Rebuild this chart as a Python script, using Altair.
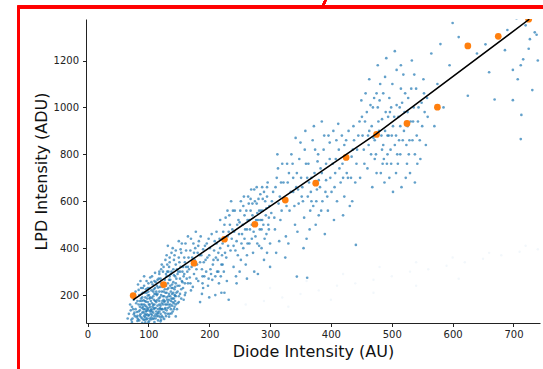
import altair as alt
import pandas as pd

# ---- data -------------------------------------------------------------
# dense low cluster
cluster_pts = [
    (68,120),(72,95),(75,140),(78,110),(80,165),(82,90),(84,130),(85,200),(86,150),(88,105),
    (89,175),(90,125),(91,230),(92,95),(93,160),(94,140),(95,190),(96,115),(97,210),(98,100),
    (99,170),(100,135),(100,250),(101,88),(102,185),(103,150),(104,120),(105,220),(106,165),(107,98),
    (108,195),(109,140),(110,260),(110,110),(111,175),(112,205),(113,130),(114,240),(115,155),(116,92),
    (117,185),(118,215),(119,145),(120,270),(120,120),(121,200),(122,165),(123,235),(124,105),(125,180),
    (126,250),(127,140),(128,210),(129,290),(130,160),(131,225),(132,120),(133,195),(134,265),(135,150),
    (136,240),(137,175),(138,300),(139,205),(140,130),(141,255),(142,185),(143,225),(144,280),(145,160),
    (146,210),(148,240),(150,195),(152,270),(154,225),(156,300),(158,180),(160,250),(76,180),(79,215),
    (83,245),(87,260),(90,190),(93,280),(95,105),(97,150),(99,230),(101,200),(103,275),(105,140),
    (107,245),(109,180),(111,295),(113,215),(115,120),(117,270),(119,190),(121,310),(123,140),(125,215),
    (127,175),(129,240),(131,330),(133,160),(135,280),(137,215),(139,155),(141,310),(143,200),(145,250),
    (86,112),(92,128),(96,172),(104,96),(108,158),(112,145),(118,130),(122,112),(126,98),(130,135),
    (134,108),(138,122),(142,140),(84,160),(88,185),(94,210),(98,118),(102,160),(106,188),(110,205),
    (114,178),(116,232),(120,155),(124,195),(128,122),(132,250),(136,195),(140,230),(144,198),(148,165),
    (70,160),(74,100),(77,125),(81,105),(85,92),(89,145),(93,110),(97,132),(101,115),(105,105),
    (90,82),(100,83),(110,85),(120,88),(95,84),(145,109),(66,100),(73,85),
]
cluster_pts_2 = [
    (71,135),(73,150),(76,118),(78,195),(79,140),(81,128),(82,175),(83,98),(84,222),(86,135),
    (87,118),(88,160),(89,205),(90,100),(91,150),(92,178),(93,240),(94,120),(95,155),(96,225),
    (97,96),(98,140),(99,198),(100,112),(101,160),(102,230),(103,130),(104,175),(105,255),(106,115),
    (107,150),(108,215),(109,100),(110,145),(111,230),(112,118),(113,170),(114,200),(115,265),(116,140),
    (117,110),(118,175),(119,235),(120,140),(121,95),(122,215),(123,175),(124,250),(125,128),(126,195),
    (127,225),(128,160),(129,110),(130,280),(131,180),(132,145),(133,230),(134,205),(135,120),(136,265),
    (137,140),(138,185),(139,245),(140,170),(141,210),(142,285),(143,150),(144,235),(145,195),(146,270),
    (147,140),(148,215),(149,300),(150,170),(151,240),(152,205),(153,320),(154,185),(155,260),(157,230),
    (159,290),(161,210),(163,270),(165,320),(88,230),(91,210),(94,175),(97,260),(100,215),(103,190),
    (106,280),(109,225),(112,255),(115,205),(118,290),(121,250),(124,300),(127,265),(130,210),(133,300),
    (92,140),(96,130),(100,145),(104,135),(108,125),(112,100),(116,125),(120,105),(124,160),(128,145),
    (132,170),(136,160),(140,185),(144,175),(82,112),(86,175),(90,160),(94,95),(98,185),(102,100),
    (106,130),(110,160),(114,110),(118,160),(122,140),(126,170),(130,190),(134,180),(138,230),(142,165),
]
# lower-middle spread
low_mid_pts = [
    (125,320),(130,370),(135,340),(140,400),(145,330),(150,360),(152,300),(155,420),(158,280),(160,340),
    (162,390),(165,250),(167,310),(170,440),(172,360),(175,290),(177,400),(180,330),(182,260),(184,370),
    (186,450),(188,310),(190,395),(192,280),(194,350),(196,420),(198,240),(200,370),(202,310),(204,460),
    (206,330),(208,390),(210,280),(212,420),(214,350),(216,250),(218,400),(220,330),(150,430),(165,450),
    (178,470),(190,230),(170,220),(160,200),(148,290),(185,340),(195,300),(205,265),(175,380),(162,320),
    (142,350),(138,380),(156,255),(168,275),(182,410),(199,440),(211,360),(173,235),(188,205),(153,395),
    (210,200),(225,210),(200,190),(185,170),(145,390),(132,410),(128,350),(118,300),(122,330),(135,360),
    (232,180),(220,210),
    (131,300),(134,320),(137,290),(143,370),(147,310),(151,340),(154,380),(157,320),(159,360),(161,420),
    (164,300),(166,360),(169,390),(171,320),(174,420),(176,350),(179,310),(181,380),(183,430),(187,370),
    (189,280),(191,340),(193,410),(197,360),(201,400),(203,290),(207,350),(209,430),(213,300),(215,380),
    (217,440),(219,280),(221,370),(224,300),(227,440),(229,260),(169,250),(179,270),(189,250),(199,270),
]
mid_pts = [
    (222,420),(225,500),(228,360),(230,450),(233,540),(235,390),(238,480),(240,320),(242,560),(245,430),
    (247,370),(250,510),(252,600),(254,460),(256,400),(258,540),(260,330),(262,480),(264,620),(266,420),
    (268,560),(270,500),(272,380),(274,650),(276,450),(278,590),(280,520),(282,410),(284,630),(286,480),
    (288,560),(290,350),(292,600),(294,460),(296,680),(298,530),(300,420),(236,600),(244,280),(252,350),
    (258,440),(266,520),(274,300),(282,560),(290,640),(298,480),(226,380),(232,470),(248,520),(256,580),
    (262,370),(270,440),(278,660),(286,400),(294,570),(240,410),(250,300),(268,610),(284,520),(230,560),
    (215,300),(212,470),(218,520),(222,330),(245,250),(262,270),(280,290),(300,320),(295,380),(288,610),
    (223,470),(227,530),(231,410),(234,500),(237,440),(239,560),(241,470),(243,390),(246,500),(249,460),
    (251,560),(253,420),(255,500),(257,620),(259,480),(261,560),(263,420),(265,590),(267,480),(269,650),
    (271,540),(273,470),(275,600),(277,520),(279,420),(281,610),(283,480),(285,560),(287,660),(289,500),
    (291,440),(293,540),(295,620),(297,500),(299,580),(263,520),(271,590),(279,550),(287,520),(295,660),
]
upper_mid_pts = [
    (302,550),(305,640),(308,480),(311,700),(314,590),(317,520),(320,760),(323,610),(326,450),(329,680),
    (332,560),(335,800),(338,640),(341,500),(344,720),(347,590),(350,850),(353,660),(356,530),(359,760),
    (362,620),(365,480),(368,700),(371,580),(374,820),(377,650),(380,540),(383,740),(386,600),(389,880),
    (392,690),(395,560),(398,780),(401,640),(404,900),(407,720),(410,600),(413,820),(416,680),(419,760),
    (422,620),(425,860),(428,700),(431,580),(434,790),(437,920),(440,680),(315,430),(330,420),(345,470),
    (360,440),(375,500),(390,460),(405,520),(420,540),(435,600),(312,800),(328,760),(342,870),(358,900),
    (372,920),(385,940),(398,850),(412,930),(426,720),(338,700),(352,620),(366,560),(380,690),(394,620),
    (408,780),(422,840),(364,680),(378,770),(392,760),(406,660),(420,700),(436,820),(346,650),(318,680),
    (344,279),(361,274),(441,414),(325,360),(310,380),(355,400),
    (303,600),(307,530),(309,660),(313,740),(316,620),(319,560),(322,680),(327,580),(331,720),(334,640),
    (337,760),(340,580),(343,660),(348,780),(351,700),(354,600),(357,820),(361,700),(363,760),(367,640),
    (370,860),(373,720),(376,600),(379,800),(382,660),(385,720),(388,820),(391,640),(396,880),(399,700),
    (403,760),(409,860),(414,740),(418,880),(424,780),(429,900),(433,700),(438,860),(368,600),(384,560),
]
high_pts = [
    (442,760),(445,880),(448,700),(451,960),(454,820),(457,1060),(460,740),(463,900),(466,800),(469,1000),
    (472,860),(475,720),(478,940),(481,1100),(484,820),(487,780),(490,980),(493,880),(496,1040),(499,760),
    (502,920),(505,840),(508,1160),(511,960),(514,800),(517,1020),(520,900),(523,700),(526,980),(529,860),
    (532,1080),(535,940),(538,800),(541,880),(544,1000),(547,780),(550,920),(553,1060),(556,840),(559,960),
    (463,1120),(477,1180),(491,1210),(505,1240),(519,1140),(533,1200),(488,680),(502,640),(516,660),(530,720),
    (472,780),(486,840),(500,880),(514,920),(528,800),(542,760),(456,940),(470,870),(484,950),(498,820),
    (512,860),(526,920),(540,1080),(468,660),(482,720),(496,700),(510,760),(524,840),(538,680),(552,1120),
    (480,1030),(494,960),(508,1010),(522,1060),(536,1000),(450,1030),(465,1010),(479,900),(493,800),(507,720),
    (443,820),(447,940),(452,880),(455,760),(459,980),(462,840),(467,920),(471,1040),(474,800),(477,1000),
    (483,880),(486,1060),(489,900),(492,760),(495,880),(497,980),(501,1100),(504,960),(507,880),(509,800),
    (513,1000),(515,1080),(518,860),(521,980),(525,760),(527,1040),(531,940),(534,860),(537,1140),(543,940),
    (546,860),(549,1020),(554,980),(558,1040),(489,1130),(515,1180),(475,1060),(461,880),(499,1000),(485,760),
]
top_pts = [
    (565,1230),(575,1100),(585,1000),(595,1180),(610,1300),(625,1050),(640,1230),(654,1269),(669,1034),(686,1244),
    (699,1031),(699,1160),(707,1120),(713,968),(712,865),(716,1205),(727,1291),(731,1074),(720,1350),(735,1320),
    (705,1380),(690,1330),(740,1200),(600,1360),(570,920),(580,1270),(660,1150),(725,1250),(712,1180),(738,1310),
]
# very faint second population (lower band)
faint_pts = [
    (260,160),(290,175),(320,190),(350,205),(380,220),(410,240),(440,250),(470,265),(500,280),(530,300),
    (560,310),(590,325),(620,340),(650,355),(680,370),(710,385),(740,395),(300,230),(360,260),(420,290),
    (480,320),(540,340),(600,360),(660,380),(720,410),(330,150),(400,180),(470,210),(540,240),(610,270),
]

bin_x = [75, 125, 175, 225, 275, 325, 375, 425, 475, 525, 575, 625, 675, 725]
bin_y = [198, 245, 336, 438, 502, 605, 677, 787, 885, 932, 1001, 1262, 1303, 1376]

fit_x = [75, 300, 474, 726]
fit_y = [180, 578, 886, 1376]

# ---- frames -------------------------------------------------------------
blue_all = (cluster_pts + cluster_pts_2 + low_mid_pts + mid_pts
            + upper_mid_pts + high_pts + top_pts)
blue_df = pd.DataFrame(blue_all, columns=["x", "y"])
faint_df = pd.DataFrame(faint_pts, columns=["x", "y"])
bin_df = pd.DataFrame({"x": bin_x, "y": bin_y})
fit_df = pd.DataFrame({"x": fit_x, "y": fit_y})

xs = alt.Scale(domain=[-2.5, 743.6], nice=False, zero=False)
ys = alt.Scale(domain=[81, 1377], nice=False, zero=False)

X = alt.X("x:Q", scale=xs, title="Diode Intensity (AU)",
          axis=alt.Axis(values=[0, 100, 200, 300, 400, 500, 600, 700], format="d"))
Y = alt.Y("y:Q", scale=ys, title="LPD Intensity (ADU)",
          axis=alt.Axis(values=[200, 400, 600, 800, 1000, 1200], format="d"))

faint = alt.Chart(faint_df).mark_circle(size=6, color="#1f77b4", opacity=0.06, clip=True).encode(x=X, y=Y)
blue = alt.Chart(blue_df).mark_circle(size=7, color="#1f77b4", opacity=0.7, clip=True).encode(x=X, y=Y)
orange = alt.Chart(bin_df).mark_circle(size=45, color="#ff7f0e", opacity=1, clip=True).encode(x=X, y=Y)
fit = alt.Chart(fit_df).mark_line(color="black", strokeWidth=1.5, clip=True).encode(x=X, y=Y)

# red screenshot frame (decoration, in pixel space relative to plot origin)
frame_left = alt.Chart(bin_df).mark_rule(color="#ff0000", strokeWidth=2.5).encode(
    x=alt.value(-67.5), y=alt.value(-12), y2=alt.value(400))
frame_top = alt.Chart(bin_df).mark_rule(color="#ff0000", strokeWidth=2.5).encode(
    x=alt.value(-68.5), x2=alt.value(600), y=alt.value(-12))
frame_tick = alt.Chart(bin_df).mark_rule(color="#ff0000", strokeWidth=2).encode(
    x=alt.value(240), x2=alt.value(236.5), y=alt.value(-20), y2=alt.value(-12))

chart = alt.layer(faint, blue, orange, fit, frame_left, frame_top, frame_tick).properties(
    width=454, height=304,
    autosize=alt.AutoSizeParams(type="none"),
    padding={"left": 86, "top": 19, "right": 3, "bottom": 46},
    background="white",
).configure_view(stroke=None).configure_axis(
    grid=False,
    domainColor="#222222",
    domainWidth=1,
    tickColor="#222222",
    tickSize=3.5,
    tickWidth=1,
    labelFont="DejaVu Sans",
    labelFontSize=10,
    labelColor="#222222",
    titleFont="DejaVu Sans",
    titleFontSize=16,
    titleFontWeight="normal",
    titleColor="#111111",
).configure_axisX(labelPadding=3, titlePadding=4).configure_axisY(labelPadding=4, titlePadding=4)

chart.save("out.html", embed_options={"renderer": "svg", "actions": False})
